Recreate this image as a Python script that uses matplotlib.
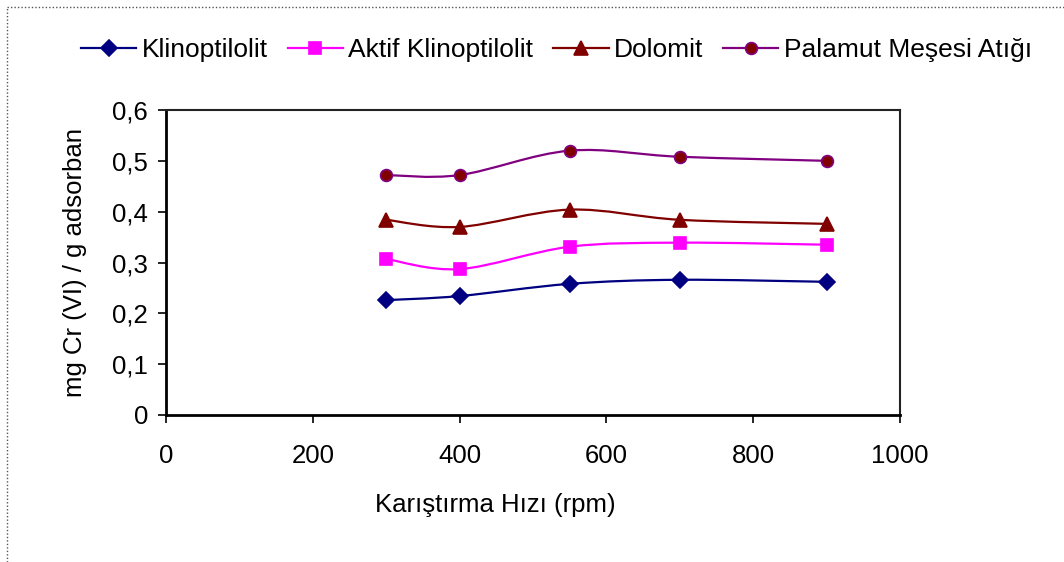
import matplotlib
matplotlib.use("Agg")
import matplotlib.pyplot as plt
import numpy as np
from matplotlib.path import Path
from matplotlib.patches import PathPatch
from matplotlib.lines import Line2D

plt.rcParams['font.family'] = ['Liberation Sans', 'DejaVu Sans']

# data
rpm = [300, 400, 550, 700, 900]
klinoptilolit = [0.226, 0.234, 0.258, 0.266, 0.262]
aktif_klinoptilolit = [0.307, 0.287, 0.331, 0.339, 0.335]
dolomit = [0.384, 0.370, 0.404, 0.384, 0.376]
palamut = [0.472, 0.472, 0.520, 0.508, 0.500]

series_names = ["Klinoptilolit", "Aktif Klinoptilolit", "Dolomit", "Palamut Meşesi Atığı"]
x_ticks = [0, 200, 400, 600, 800, 1000]
y_ticks = [0, 0.1, 0.2, 0.3, 0.4, 0.5, 0.6]
y_tick_labels = ["0", "0,1", "0,2", "0,3", "0,4", "0,5", "0,6"]


def smooth_path(xs, ys):
    # Excel style smoothed line (Catmull-Rom as cubic Bezier)
    pts = np.column_stack([xs, ys]).astype(float)
    ext = np.vstack([pts[0], pts, pts[-1]])
    verts = [pts[0]]
    codes = [Path.MOVETO]
    for i in range(1, len(ext) - 2):
        p0, p1, p2, p3 = ext[i - 1], ext[i], ext[i + 1], ext[i + 2]
        c1 = p1 + (p2 - p0) / 6.0
        c2 = p2 - (p3 - p1) / 6.0
        verts += [c1, c2, p2]
        codes += [Path.CURVE4] * 3
    return Path(verts, codes)


fig = plt.figure(figsize=(10.64, 5.62), dpi=100)
ax = fig.add_axes([166 / 1064, 1 - 415 / 562, (900 - 166) / 1064, (415 - 110) / 562])

styles = [
    dict(color="#000080", marker="D", mfc="#000080", mec="#000080", ms=8),
    dict(color="#FF00FF", marker="s", mfc="#FF00FF", mec="#FF00FF", ms=8),
    dict(color="#800000", marker="^", mfc="#800000", mec="#800000", ms=9.5),
    dict(color="#800080", marker="o", mfc="#800000", mec="#800080", ms=8.5),
]
all_series = [klinoptilolit, aktif_klinoptilolit, dolomit, palamut]

handles = []
for name, vals, st in zip(series_names, all_series, styles):
    patch = PathPatch(smooth_path(rpm, vals), facecolor="none", edgecolor=st["color"], lw=1.6, zorder=2)
    ax.add_patch(patch)
    ax.plot(rpm, vals, linestyle="none", marker=st["marker"], mfc=st["mfc"], mec=st["mec"],
            ms=st["ms"], mew=1.2, zorder=3, clip_on=False)
    handles.append(Line2D([], [], color=st["color"], lw=1.6, marker=st["marker"], mfc=st["mfc"],
                          mec=st["mec"], ms=st["ms"], mew=1.2, label=name))

ax.set_xlim(0, 1000)
ax.set_ylim(0, 0.6)
ax.set_xticks(x_ticks)
ax.set_xticklabels([str(t) for t in x_ticks])
ax.set_yticks(y_ticks)
ax.set_yticklabels(y_tick_labels)
ax.tick_params(axis="both", direction="out", length=6, width=1.2, labelsize=18.5, colors="black", pad=7)
ax.tick_params(axis="x", pad=15)

for side in ["left", "bottom"]:
    ax.spines[side].set_linewidth(2)
for side in ["top", "right"]:
    ax.spines[side].set_linewidth(1.5)
    ax.spines[side].set_color("#222222")

ax.set_xlabel("Karıştırma Hızı (rpm)", fontsize=18.5)
ax.xaxis.set_label_coords(0.448, -0.255)
ax.set_ylabel("mg Cr (VI) / g adsorban", fontsize=18.5, labelpad=18)

fig.legend(handles=handles, loc="center", bbox_to_anchor=(0.523, 0.911), ncol=4, frameon=False,
           fontsize=19, handlelength=2.1, handletextpad=0.2, columnspacing=0.75)

# dotted outer chart border (top and left visible)
fig.add_artist(Line2D([7 / 1064, 1.0], [1 - 7 / 562, 1 - 7 / 562], transform=fig.transFigure,
                      color="#555555", lw=1, linestyle=(0, (1, 1.5))))
fig.add_artist(Line2D([7 / 1064, 7 / 1064], [0.0, 1 - 7 / 562], transform=fig.transFigure,
                      color="#555555", lw=1, linestyle=(0, (1, 1.5))))

fig.savefig("out.png", dpi=100)
